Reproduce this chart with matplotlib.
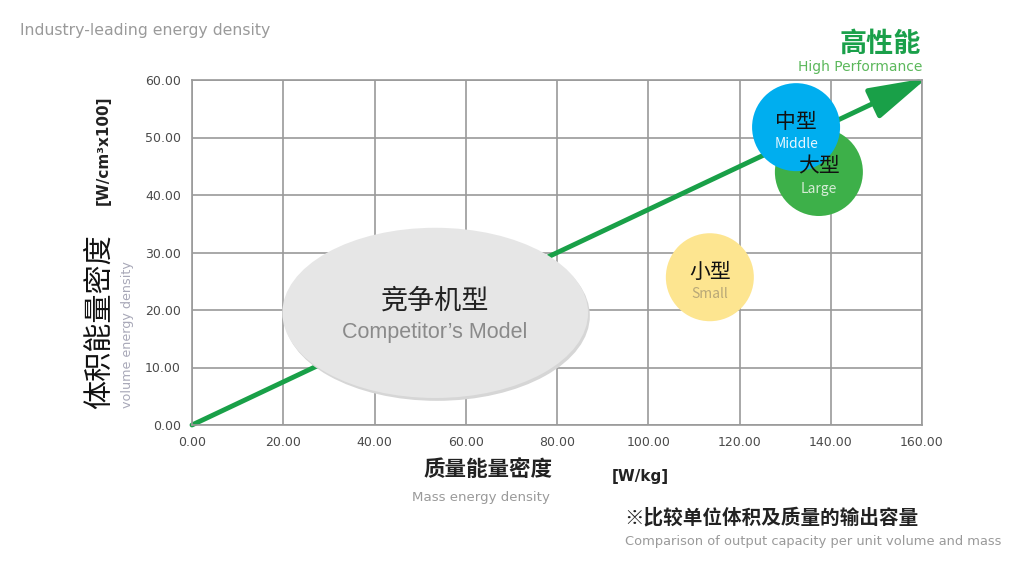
import matplotlib
matplotlib.use("Agg")
import matplotlib.pyplot as plt
from matplotlib.patches import Ellipse
from matplotlib.transforms import offset_copy
import numpy as np

# data
x_ticks = [0, 20, 40, 60, 80, 100, 120, 140, 160]
y_ticks = [0, 10, 20, 30, 40, 50, 60]
trend_x = [0, 160]
trend_y = [0, 60]

model_names = ["小型", "大型", "中型"]
model_names_en = ["Small", "Large", "Middle"]
model_x = [113.5, 137.4, 132.4]
model_y = [25.7, 44.0, 51.8]
model_colors = ["#fde590", "#3db049", "#00aeef"]
model_en_colors = ["#b8a878", "#d5ecd5", "#e8f6ff"]

comp_name = "竞争机型"
comp_name_en = "Competitor’s Model"
comp_center = (53.3, 19.5)
comp_size = (67.0, 29.6)

CJK = ["Noto Sans CJK SC", "DejaVu Sans"]
W, H = 1013, 564

fig = plt.figure(figsize=(W / 100, H / 100), dpi=100)
ax = fig.add_axes([192 / W, 1 - 425 / H, 730 / W, 345 / H])

def px(x, y):
	return x / W, 1 - y / H

ax.set_xlim(0, 160)
ax.set_ylim(0, 60)
ax.set_xticks(x_ticks)
ax.set_yticks(y_ticks)
ax.set_xticklabels(["%.2f" % v for v in x_ticks])
ax.set_yticklabels(["%.2f" % v for v in y_ticks])
ax.tick_params(length=0, labelsize=9, colors="#4a4a4a", pad=8)
ax.grid(True, color="#9a9a9a", lw=1.2)
ax.set_axisbelow(True)
for s in ax.spines.values():
	s.set_color("#9a9a9a")
	s.set_linewidth(1.2)

# trend arrow (tip nudged a few pixels so the stroked head reaches the corner)
tip_tr = offset_copy(ax.transData, fig=fig, x=5, y=2, units="dots")
ax.annotate("", xy=(trend_x[1], trend_y[1]), xycoords=tip_tr,
	xytext=(trend_x[0], trend_y[0]), textcoords="data",
	arrowprops=dict(arrowstyle="-|>,head_length=1.8,head_width=0.5", mutation_scale=20,
		color="#19a048", lw=3.5, shrinkA=0, shrinkB=0, clip_on=False),
	annotation_clip=False, zorder=2)

# competitor ellipse
ax.add_patch(Ellipse((comp_center[0] + 0.4, comp_center[1] - 0.5), comp_size[0], comp_size[1],
	facecolor="#d6d6d6", edgecolor="none", zorder=3, clip_on=False))
ax.add_patch(Ellipse(comp_center, comp_size[0], comp_size[1],
	facecolor="#e6e6e6", edgecolor="none", zorder=3, clip_on=False))
ax.text(comp_center[0], comp_center[1] + 2.0, comp_name, family=CJK, fontsize=19.5,
	color="#222222", ha="center", va="center", zorder=5)
ax.text(comp_center[0], comp_center[1] - 3.4, comp_name_en, family=["Liberation Sans"], fontsize=15.5,
	color="#8a8a8a", ha="center", va="center", zorder=5)

# model circles
ax.scatter(model_x, model_y, s=(88 * 0.72) ** 2, c=model_colors, edgecolors="none", zorder=4, clip_on=False)
for i in range(len(model_names)):
	ax.text(model_x[i], model_y[i] + 0.9, model_names[i], family=CJK, fontsize=15,
		color="#111111", ha="center", va="center", zorder=6)
	ax.text(model_x[i], model_y[i] - 2.9, model_names_en[i], family=CJK, fontsize=10,
		color=model_en_colors[i], ha="center", va="center", zorder=6)

# outside texts
fig.text(*px(20, 30), "Industry-leading energy density", fontsize=11.3, color="#9a9a9a", va="center")
fig.text(*px(921, 44), "高性能", family=CJK, fontsize=19.5, fontweight="bold", color="#1aa04a", ha="right", va="center")
fig.text(*px(922, 67), "High Performance", fontsize=10, color="#5cb85c", ha="right", va="center")

fig.text(*px(100, 322), "体积能量密度", family=CJK, fontsize=21, color="#111111",
	rotation=90, ha="center", va="center")
fig.text(*px(103, 150), "[W/cm³x100]", fontsize=11, fontweight="bold", color="#222222",
	rotation=90, ha="center", va="center")
fig.text(*px(128, 335), "volume energy density", fontsize=9.2, color="#a8a8b8",
	rotation=90, ha="center", va="center")

fig.text(*px(488, 470), "质量能量密度", family=CJK, fontsize=15.5, fontweight="bold", color="#222222",
	ha="center", va="center")
fig.text(*px(481, 497), "Mass energy density", fontsize=9.6, color="#9a9a9a", ha="center", va="center")
fig.text(*px(612, 476), "[W/kg]", fontsize=11, fontweight="bold", color="#222222", va="center")

fig.text(*px(624, 518), "※比较单位体积及质量的输出容量", family=CJK, fontsize=14.1, fontweight="bold",
	color="#222222", va="center")
fig.text(*px(625, 542), "Comparison of output capacity per unit volume and mass", fontsize=9.4,
	color="#9a9a9a", va="center")

fig.savefig("out.png", dpi=100)
